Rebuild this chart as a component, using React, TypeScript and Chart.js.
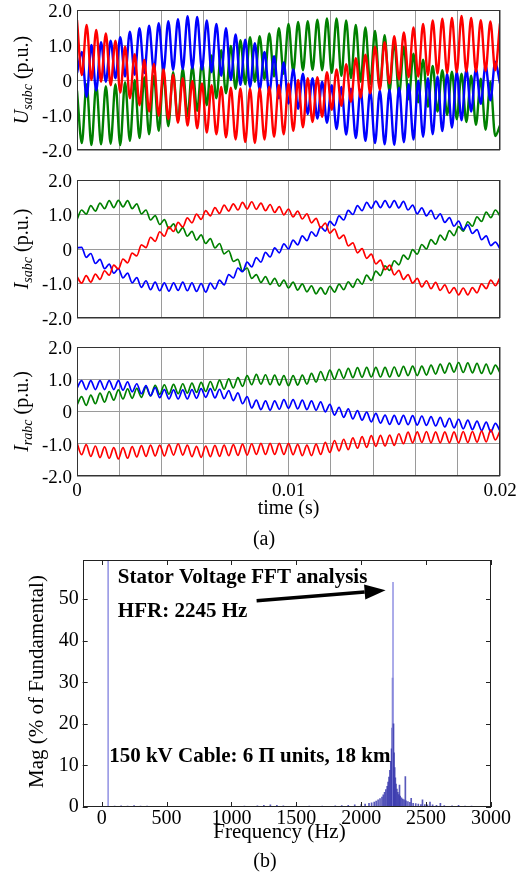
import React, { useEffect, useRef } from "react";
import { Chart, registerables } from "chart.js";

Chart.register(...registerables);

const FAMILY = "'Liberation Serif', 'Times New Roman', serif";

// ---------- time axis (s) ----------
const T_END_S = 0.02;
const TIME_TICKS_S = [0, 0.002, 0.004, 0.006, 0.008, 0.01, 0.012, 0.014, 0.016, 0.018, 0.02];
const TIME_TICK_LABELS = ["0", "", "", "", "", "0.01", "", "", "", "", "0.02"];
const PU_TICKS = [-2, -1, 0, 1, 2];
const PU_TICK_LABELS = ["-2.0", "-1.0", "0", "1.0", "2.0"];

// ---------- stator voltages (p.u.), samples at successive ripple extrema ----------
const US_A = [
  0.2, 0.8, -0.48, 1.0, -0.3, 1.08, -0.05, 1.12, 0.05, 1.22,
  0.1, 1.38, 0.15, 1.48, 0.2, 1.55, 0.24, 1.62, 0.26, 1.68,
  0.29, 1.74, 0.31, 1.82, 0.33, 1.8, 0.3, 1.7, 0.22, 1.6,
  0.12, 1.48, 0.0, 1.3, -0.14, 1.15, -0.2, 1.05, -0.28, 0.8,
  -0.36, 0.68, -0.52, 0.5, -0.67, 0.3, -0.82, 0.18, -0.97, 0.05,
  -1.1, -0.05, -1.22, -0.15, -1.4, -0.2, -1.56, -0.25, -1.66, -0.28,
  -1.74, -0.3, -1.8, -0.3, -1.84, -0.28, -1.85, -0.22, -1.78, -0.12,
  -1.7, -0.02, -1.62, 0.05, -1.55, 0.1, -1.46, 0.18, -1.36, 0.24,
  -1.15, 0.3, -0.9, 0.32, -0.68, 0.42, -0.58, 0.52, -0.1,
];
const US_B = [
  -0.3, -1.8, -0.12, -1.86, -0.14, -1.84, -0.18, -1.82, -0.12, -1.86,
  -0.06, -1.74, 0.0, -1.66, 0.08, -1.55, 0.12, -1.45, 0.14, -1.32,
  0.22, -1.18, 0.32, -1.03, 0.4, -0.88, 0.52, -0.72, 0.7, -0.52,
  0.85, -0.38, 0.97, -0.25, 1.14, -0.12, 1.22, -0.05, 1.25, 0.02,
  1.33, 0.1, 1.48, 0.18, 1.6, 0.24, 1.66, 0.28, 1.68, 0.29,
  1.72, 0.28, 1.76, 0.2, 1.76, 0.12, 1.7, 0.05, 1.57, -0.05,
  1.5, -0.12, 1.4, -0.22, 1.28, -0.33, 1.1, -0.42, 0.95, -0.55,
  0.75, -0.64, 0.58, -0.76, 0.4, -0.9, 0.28, -1.0, 0.24, -1.12,
  0.18, -1.2, 0.12, -1.28, 0.04, -1.42, -0.05, -1.6, -1.3,
];
const US_C = [
  1.71, 0.14, 1.57, 0.0, 1.43, -0.05, 1.33, -0.15, 1.12, -0.36,
  0.95, -0.52, 0.74, -0.72, 0.57, -0.9, 0.46, -1.02, 0.3, -1.12,
  0.15, -1.22, 0.05, -1.3, -0.03, -1.38, -0.1, -1.5, -0.15, -1.55,
  -0.2, -1.64, -0.22, -1.7, -0.24, -1.77, -0.25, -1.8, -0.24, -1.7,
  -0.2, -1.62, -0.15, -1.55, -0.1, -1.45, 0.0, -1.35, 0.05, -1.2,
  0.08, -1.05, 0.22, -0.85, 0.3, -0.74, 0.45, -0.62, 0.62, -0.5,
  0.72, -0.38, 0.95, -0.27, 1.08, -0.1, 1.25, 0.02, 1.36, 0.08,
  1.5, 0.1, 1.6, 0.14, 1.7, 0.18, 1.75, 0.2, 1.77, 0.22,
  1.83, 0.24, 1.77, 0.24, 1.71, 0.26, 1.67, 0.28, 1.62,
];

// ---------- stator currents (p.u.) ----------
const IS_A = [
  0.03, 0.05, -0.24, -0.13, -0.42, -0.3, -0.57, -0.44, -0.7, -0.57,
  -0.84, -0.7, -0.98, -0.83, -1.11, -0.92, -1.18, -0.96, -1.21, -0.98,
  -1.22, -0.98, -1.2, -0.96, -1.21, -0.98, -1.23, -1.0, -1.25, -0.99,
  -1.16, -0.9, -1.04, -0.74, -0.84, -0.55, -0.66, -0.38, -0.52, -0.25,
  -0.38, -0.1, -0.23, 0.03, -0.11, 0.15, 0.0, 0.26, 0.12, 0.38,
  0.24, 0.5, 0.37, 0.64, 0.52, 0.8, 0.68, 0.96, 0.84, 1.12,
  1.0, 1.26, 1.11, 1.35, 1.18, 1.39, 1.2, 1.4, 1.2, 1.4,
  1.19, 1.38, 1.13, 1.27, 1.02, 1.19, 0.96, 1.12, 0.87, 1.02,
  0.77, 0.91, 0.66, 0.81, 0.56, 0.7, 0.45, 0.56, 0.27, 0.38,
  0.1, 0.2, 0.0,
];
const IS_B = [
  0.85, 1.13, 1.01, 1.26, 1.1, 1.33, 1.17, 1.4, 1.2, 1.41,
  1.22, 1.4, 1.17, 1.31, 1.02, 1.13, 0.84, 0.97, 0.71, 0.85,
  0.59, 0.73, 0.47, 0.62, 0.37, 0.51, 0.26, 0.41, 0.16, 0.3,
  0.03, 0.16, -0.14, -0.05, -0.36, -0.3, -0.64, -0.55, -0.85, -0.74,
  -0.97, -0.8, -1.03, -0.85, -1.08, -0.9, -1.13, -0.96, -1.19, -1.01,
  -1.24, -1.07, -1.3, -1.12, -1.31, -1.08, -1.25, -1.02, -1.18, -0.95,
  -1.11, -0.87, -1.02, -0.76, -0.91, -0.64, -0.77, -0.49, -0.62, -0.34,
  -0.46, -0.18, -0.3, -0.02, -0.15, 0.13, 0.0, 0.27, 0.14, 0.4,
  0.26, 0.53, 0.39, 0.65, 0.52, 0.79, 0.66, 0.93, 0.8, 1.07,
  0.91, 1.13, 0.95,
];
const IS_C = [
  -0.8, -0.99, -0.77, -0.96, -0.73, -0.88, -0.63, -0.76, -0.47, -0.58,
  -0.29, -0.4, -0.12, -0.2, 0.12, 0.04, 0.34, 0.22, 0.5, 0.37,
  0.64, 0.51, 0.77, 0.64, 0.9, 0.76, 1.01, 0.86, 1.11, 0.96,
  1.2, 1.03, 1.27, 1.1, 1.31, 1.13, 1.35, 1.16, 1.37, 1.15,
  1.33, 1.11, 1.29, 1.06, 1.23, 0.99, 1.16, 0.93, 1.1, 0.87,
  1.02, 0.76, 0.89, 0.62, 0.75, 0.46, 0.58, 0.3, 0.4, 0.09,
  0.18, -0.11, 0.01, -0.27, -0.15, -0.43, -0.32, -0.6, -0.47, -0.75,
  -0.62, -0.88, -0.74, -0.99, -0.85, -1.1, -0.92, -1.15, -0.97, -1.2,
  -1.04, -1.28, -1.12, -1.33, -1.13, -1.33, -1.12, -1.27, -1.01, -1.15,
  -0.9, -1.06, -0.83,
];

// ---------- rotor currents (p.u.) ----------
const IR_A = [
  0.72, 0.96, 0.68, 0.96, 0.68, 0.96, 0.68, 0.96, 0.68, 0.96,
  0.66, 0.92, 0.61, 0.86, 0.55, 0.8, 0.49, 0.74, 0.43, 0.68,
  0.39, 0.67, 0.39, 0.67, 0.39, 0.68, 0.41, 0.71, 0.44, 0.71,
  0.42, 0.69, 0.4, 0.65, 0.34, 0.58, 0.24, 0.46, 0.11, 0.35,
  0.06, 0.33, 0.04, 0.33, 0.07, 0.37, 0.1, 0.37, 0.08, 0.35,
  0.06, 0.33, 0.04, 0.3, -0.01, 0.22, -0.11, 0.13, -0.18, 0.08,
  -0.23, 0.03, -0.27, -0.02, -0.32, -0.06, -0.36, -0.11, -0.4, -0.12,
  -0.4, -0.12, -0.41, -0.13, -0.42, -0.14, -0.43, -0.16, -0.45, -0.18,
  -0.48, -0.21, -0.51, -0.24, -0.54, -0.27, -0.56, -0.3, -0.59, -0.33,
  -0.63, -0.37, -0.6,
];
const IR_B = [
  0.2, 0.46, 0.19, 0.51, 0.24, 0.57, 0.29, 0.62, 0.35, 0.67,
  0.39, 0.7, 0.41, 0.72, 0.44, 0.76, 0.48, 0.81, 0.53, 0.83,
  0.54, 0.84, 0.55, 0.86, 0.57, 0.88, 0.59, 0.9, 0.62, 0.93,
  0.65, 0.97, 0.69, 1.01, 0.73, 1.05, 0.78, 1.11, 0.83, 1.15,
  0.85, 1.14, 0.83, 1.13, 0.82, 1.11, 0.8, 1.11, 0.82, 1.13,
  0.85, 1.18, 0.91, 1.24, 0.96, 1.28, 1.0, 1.31, 1.03, 1.34,
  1.05, 1.36, 1.06, 1.37, 1.07, 1.37, 1.07, 1.37, 1.07, 1.38,
  1.09, 1.4, 1.11, 1.41, 1.11, 1.41, 1.13, 1.44, 1.16, 1.47,
  1.19, 1.5, 1.22, 1.52, 1.21, 1.51, 1.2, 1.49, 1.18, 1.47,
  1.16, 1.44, 1.2,
];
const IR_C = [
  -0.98, -1.34, -1.03, -1.39, -1.07, -1.43, -1.1, -1.45, -1.12, -1.47,
  -1.12, -1.45, -1.09, -1.41, -1.06, -1.39, -1.04, -1.38, -1.04, -1.38,
  -1.03, -1.35, -1.0, -1.35, -1.04, -1.4, -1.08, -1.42, -1.07, -1.4,
  -1.05, -1.39, -1.04, -1.37, -1.03, -1.36, -1.01, -1.35, -1.0, -1.33,
  -0.99, -1.33, -0.99, -1.33, -0.99, -1.33, -0.99, -1.34, -1.02, -1.37,
  -1.04, -1.37, -1.01, -1.33, -0.96, -1.27, -0.9, -1.22, -0.86, -1.18,
  -0.82, -1.14, -0.78, -1.11, -0.75, -1.08, -0.74, -1.07, -0.73, -1.05,
  -0.69, -1.0, -0.64, -0.97, -0.63, -0.96, -0.62, -0.97, -0.63, -0.97,
  -0.63, -0.97, -0.63, -0.97, -0.62, -0.96, -0.62, -0.95, -0.61, -0.94,
  -0.57, -0.88, -0.6,
];

// ---------- FFT spectrum ----------
const FFT_FREQ_HZ = [
  50, 100, 150, 200, 250, 300, 350, 400, 450, 500,
  600, 700, 800, 900, 1000, 1100, 1200, 1250, 1300, 1350,
  1400, 1500, 1600, 1700, 1800, 1850, 1900, 1950, 2000, 2030,
  2060, 2080, 2100, 2115, 2130, 2145, 2160, 2170, 2180, 2190,
  2200, 2207, 2214, 2221, 2228, 2234, 2239, 2242, 2245, 2249,
  2253, 2258, 2263, 2268, 2275, 2282, 2290, 2295, 2300, 2310,
  2320, 2330, 2340, 2345, 2360, 2375, 2385, 2400, 2420, 2440,
  2460, 2472, 2490, 2510, 2530, 2550, 2580, 2610, 2640, 2700,
  2750, 2800, 2850, 2900, 2950,
];
const FFT_MAG_PCT = [
  100, 0.2, 0.3, 0.2, 0.35, 0.25, 0.2, 0.15, 0.1, 0.1,
  0.1, 0.1, 0.1, 0.15, 0.15, 0.2, 0.3, 0.4, 0.5, 0.4,
  0.3, 0.2, 0.2, 0.25, 0.3, 0.35, 0.4, 0.5, 0.6, 0.7,
  0.9, 1.0, 1.2, 1.4, 1.7, 2.0, 2.4, 2.9, 3.5, 4.2,
  5.0, 6.0, 7.2, 8.8, 11, 14, 19, 31, 54, 20,
  13, 9.5, 7, 5.5, 4.3, 3.5, 3.0, 5.3, 2.6, 2.2,
  1.9, 1.7, 7.3, 1.5, 1.3, 1.1, 2.1, 0.9, 0.8, 0.7,
  0.6, 1.7, 0.6, 0.5, 1.2, 0.5, 0.4, 0.9, 0.35, 0.3,
  0.4, 0.25, 0.2, 0.15, 0.1,
];
const FREQ_TICKS_HZ = [0, 500, 1000, 1500, 2000, 2500, 3000];
const MAG_TICKS = [0, 10, 20, 30, 40, 50];

const BLUE = "#0000ff";
const GREEN = "#008000";
const RED = "#ff0000";

type TimePanelCfg = {
  top: number;
  height: number;
  xAxisH: number;
  letter: string;
  sub: string;
  a: number[];
  b: number[];
  c: number[];
  lw: number;
  showX: boolean;
};

const TIME_PANELS: TimePanelCfg[] = [
  { top: 0, height: 160, xAxisH: 10, letter: "U", sub: "sabc", a: US_A, b: US_B, c: US_C, lw: 2.4, showX: false },
  { top: 170, height: 158, xAxisH: 10, letter: "I", sub: "sabc", a: IS_A, b: IS_B, c: IS_C, lw: 1.7, showX: false },
  { top: 337, height: 218, xAxisH: 79, letter: "I", sub: "rabc", a: IR_A, b: IR_B, c: IR_C, lw: 1.7, showX: true },
];

function toPoints(vals: number[]) {
  const n = vals.length - 1;
  return vals.map((v, i) => ({ x: (i * T_END_S) / n, y: v }));
}

function drawYTitle(ctx: CanvasRenderingContext2D, cx: number, cy: number, main: string, sub: string, rest: string, size: number) {
  ctx.save();
  ctx.translate(cx, cy);
  ctx.rotate(-Math.PI / 2);
  ctx.fillStyle = "#000";
  ctx.textBaseline = "alphabetic";
  ctx.textAlign = "left";
  const subSize = Math.round(size * 0.72);
  const fMain = `italic ${size}px ${FAMILY}`;
  const fSub = `italic ${subSize}px ${FAMILY}`;
  const fRest = `${size}px ${FAMILY}`;
  ctx.font = fMain;
  const wMain = ctx.measureText(main).width;
  ctx.font = fSub;
  const wSub = ctx.measureText(sub).width;
  ctx.font = fRest;
  const wRest = ctx.measureText(rest).width;
  let x = -(wMain + wSub + wRest) / 2;
  const base = size * 0.34;
  ctx.font = fMain;
  ctx.fillText(main, x, base);
  x += wMain;
  ctx.font = fSub;
  ctx.fillText(sub, x, base + size * 0.22);
  x += wSub;
  ctx.font = fRest;
  ctx.fillText(rest, x, base);
  ctx.restore();
}

function TimePanel({ cfg }: { cfg: TimePanelCfg }) {
  const ref = useRef<HTMLCanvasElement>(null);
  useEffect(() => {
    const canvas = ref.current;
    if (!canvas) return;
    const decor = {
      id: "timeDecor",
      afterDraw(chart: any) {
        const { ctx, chartArea: a } = chart;
        ctx.save();
        ctx.strokeStyle = "#333";
        ctx.lineWidth = 1;
        ctx.strokeRect(Math.round(a.left) + 0.5, Math.round(a.top) + 0.5, Math.round(a.right - a.left) - 1, Math.round(a.bottom - a.top) - 1);
        ctx.restore();
        drawYTitle(ctx, 21, (a.top + a.bottom) / 2, cfg.letter, cfg.sub, " (p.u.)", 20);
        if (cfg.showX) {
          ctx.save();
          ctx.fillStyle = "#000";
          ctx.textAlign = "center";
          ctx.textBaseline = "middle";
          ctx.font = `20px ${FAMILY}`;
          ctx.fillText("time (s)", (a.left + a.right) / 2, 172);
          ctx.fillText("(a)", 264, 203);
          ctx.restore();
        }
      },
    };
    const mk = (vals: number[], color: string) => ({
      data: toPoints(vals),
      borderColor: color,
      borderWidth: cfg.lw,
      pointRadius: 0,
      fill: false,
      cubicInterpolationMode: "monotone" as const,
    });
    const chart = new Chart(canvas, {
      type: "line",
      data: { datasets: [mk(cfg.c, RED), mk(cfg.a, BLUE), mk(cfg.b, GREEN)] },
      options: {
        responsive: false,
        animation: false,
        devicePixelRatio: 1,
        layout: { padding: { top: 10, right: 19, left: 0, bottom: 0 } },
        plugins: { legend: { display: false }, tooltip: { enabled: false } },
        scales: {
          x: {
            type: "linear",
            min: 0,
            max: T_END_S,
            afterBuildTicks: (s: any) => {
              s.ticks = TIME_TICKS_S.map((v) => ({ value: v }));
            },
            afterFit: (s: any) => {
              s.height = cfg.xAxisH;
              s.paddingLeft = 0;
              s.paddingRight = 0;
            },
            grid: { color: "#9a9a9a", lineWidth: 1, drawTicks: false },
            border: { display: false },
            ticks: {
              display: cfg.showX,
              autoSkip: false,
              maxRotation: 0,
              minRotation: 0,
              padding: 4,
              color: "#000",
              font: { family: FAMILY, size: 19 },
              callback: (_v: any, i: number) => TIME_TICK_LABELS[i],
            },
          },
          y: {
            min: -2,
            max: 2,
            afterBuildTicks: (s: any) => {
              s.ticks = PU_TICKS.map((v) => ({ value: v }));
            },
            afterFit: (s: any) => {
              s.width = 77;
              s.paddingTop = 0;
              s.paddingBottom = 0;
            },
            grid: { color: "#9a9a9a", lineWidth: 1, drawTicks: false },
            border: { display: false },
            ticks: {
              autoSkip: false,
              padding: 5,
              labelOffset: 2,
              color: "#000",
              font: { family: FAMILY, size: 19 },
              callback: (_v: any, i: number) => PU_TICK_LABELS[i],
            },
          },
        },
      } as any,
      plugins: [decor],
    });
    return () => chart.destroy();
  }, [cfg]);
  return <canvas ref={ref} width={519} height={cfg.height} style={{ position: "absolute", left: 0, top: cfg.top }} />;
}

function FftPanel() {
  const ref = useRef<HTMLCanvasElement>(null);
  useEffect(() => {
    const canvas = ref.current;
    if (!canvas) return;
    const decor = {
      id: "fftDecor",
      afterDraw(chart: any) {
        const { ctx, chartArea: a, scales } = chart;
        const x = scales.x;
        const y = scales.y;
        ctx.save();
        ctx.strokeStyle = "#222";
        ctx.lineWidth = 1;
        ctx.strokeRect(Math.round(a.left) + 0.5, Math.round(a.top) + 0.5, Math.round(a.right - a.left) - 1, Math.round(a.bottom - a.top) - 1);
        ctx.beginPath();
        FREQ_TICKS_HZ.forEach((f) => {
          const px = Math.round(x.getPixelForValue(f)) + 0.5;
          ctx.moveTo(px, a.bottom);
          ctx.lineTo(px, a.bottom - 5);
          ctx.moveTo(px, a.top);
          ctx.lineTo(px, a.top + 5);
        });
        MAG_TICKS.forEach((m) => {
          const py = Math.round(y.getPixelForValue(m)) + 0.5;
          ctx.moveTo(a.left, py);
          ctx.lineTo(a.left + 5, py);
          ctx.moveTo(a.right, py);
          ctx.lineTo(a.right - 5, py);
        });
        ctx.stroke();

        // annotations
        ctx.fillStyle = "#000";
        ctx.textAlign = "left";
        ctx.textBaseline = "alphabetic";
        ctx.font = `bold 21px ${FAMILY}`;
        ctx.fillText("Stator Voltage FFT analysis", x.getPixelForValue(125), y.getPixelForValue(53.9));
        ctx.fillText("HFR: 2245 Hz", x.getPixelForValue(125), y.getPixelForValue(45.8));
        ctx.fillText("150 kV Cable: 6 \u03A0 units, 18 km", x.getPixelForValue(58), y.getPixelForValue(10.9));

        // arrow
        const x0 = x.getPixelForValue(1194);
        const y0 = y.getPixelForValue(49.6);
        const x1 = x.getPixelForValue(2188);
        const y1 = y.getPixelForValue(52.1);
        const ang = Math.atan2(y1 - y0, x1 - x0);
        const headL = 21;
        const headW = 7.5;
        const bx = x1 - headL * Math.cos(ang);
        const by = y1 - headL * Math.sin(ang);
        ctx.strokeStyle = "#000";
        ctx.lineWidth = 3.5;
        ctx.beginPath();
        ctx.moveTo(x0, y0);
        ctx.lineTo(bx, by);
        ctx.stroke();
        ctx.beginPath();
        ctx.moveTo(x1, y1);
        ctx.lineTo(bx + headW * Math.sin(ang), by - headW * Math.cos(ang));
        ctx.lineTo(bx - headW * Math.sin(ang), by + headW * Math.cos(ang));
        ctx.closePath();
        ctx.fill();

        // titles
        ctx.font = `21px ${FAMILY}`;
        ctx.textAlign = "center";
        ctx.textBaseline = "middle";
        ctx.fillText("Frequency (Hz)", 279.5, 282);
        ctx.font = `20px ${FAMILY}`;
        ctx.fillText("(b)", 265, 312);
        ctx.translate(37, (a.top + a.bottom) / 2 - 2);
        ctx.rotate(-Math.PI / 2);
        ctx.font = `21px ${FAMILY}`;
        ctx.fillText("Mag (% of Fundamental)", 0, 0);
        ctx.restore();
      },
    };
    const chart = new Chart(canvas, {
      type: "bar",
      data: {
        datasets: [
          {
            data: FFT_FREQ_HZ.map((f, i) => ({ x: f, y: FFT_MAG_PCT[i] })),
            backgroundColor: (c: any) => (c.raw && c.raw.y > 40 ? "rgba(150,150,228,0.95)" : "rgba(60,60,175,0.85)"),
            borderWidth: 0,
            barThickness: 1,
            grouped: false,
          } as any,
        ],
      },
      options: {
        responsive: false,
        animation: false,
        devicePixelRatio: 1,
        layout: { padding: { top: 10, right: 28, left: 0, bottom: 0 } },
        plugins: { legend: { display: false }, tooltip: { enabled: false } },
        scales: {
          x: {
            type: "linear",
            min: -146,
            max: 3000,
            offset: false,
            afterBuildTicks: (s: any) => {
              s.ticks = FREQ_TICKS_HZ.map((v) => ({ value: v }));
            },
            afterFit: (s: any) => {
              s.height = 66;
              s.paddingLeft = 0;
              s.paddingRight = 0;
            },
            grid: { display: false, drawTicks: false },
            border: { display: false },
            ticks: {
              autoSkip: false,
              maxRotation: 0,
              minRotation: 0,
              padding: 0,
              color: "#000",
              font: { family: FAMILY, size: 20 },
              callback: (_v: any, i: number) => String(FREQ_TICKS_HZ[i]),
            },
          },
          y: {
            min: 0,
            max: 59.4,
            afterBuildTicks: (s: any) => {
              s.ticks = MAG_TICKS.map((v) => ({ value: v }));
            },
            afterFit: (s: any) => {
              s.width = 82.7;
              s.paddingTop = 0;
              s.paddingBottom = 0;
            },
            grid: { display: false, drawTicks: false },
            border: { display: false },
            ticks: {
              autoSkip: false,
              padding: 4,
              color: "#000",
              font: { family: FAMILY, size: 20 },
              callback: (_v: any, i: number) => String(MAG_TICKS[i]),
            },
          },
        },
      } as any,
      plugins: [decor],
    });
    return () => chart.destroy();
  }, []);
  return <canvas ref={ref} width={519} height={323} style={{ position: "absolute", left: 0, top: 550 }} />;
}

export default function App() {
  return (
    <div style={{ position: "absolute", left: 0, top: 0, width: 519, height: 873, background: "#fff", overflow: "hidden" }}>
      {TIME_PANELS.map((p, i) => (
        <TimePanel key={i} cfg={p} />
      ))}
      <FftPanel />
    </div>
  );
}
